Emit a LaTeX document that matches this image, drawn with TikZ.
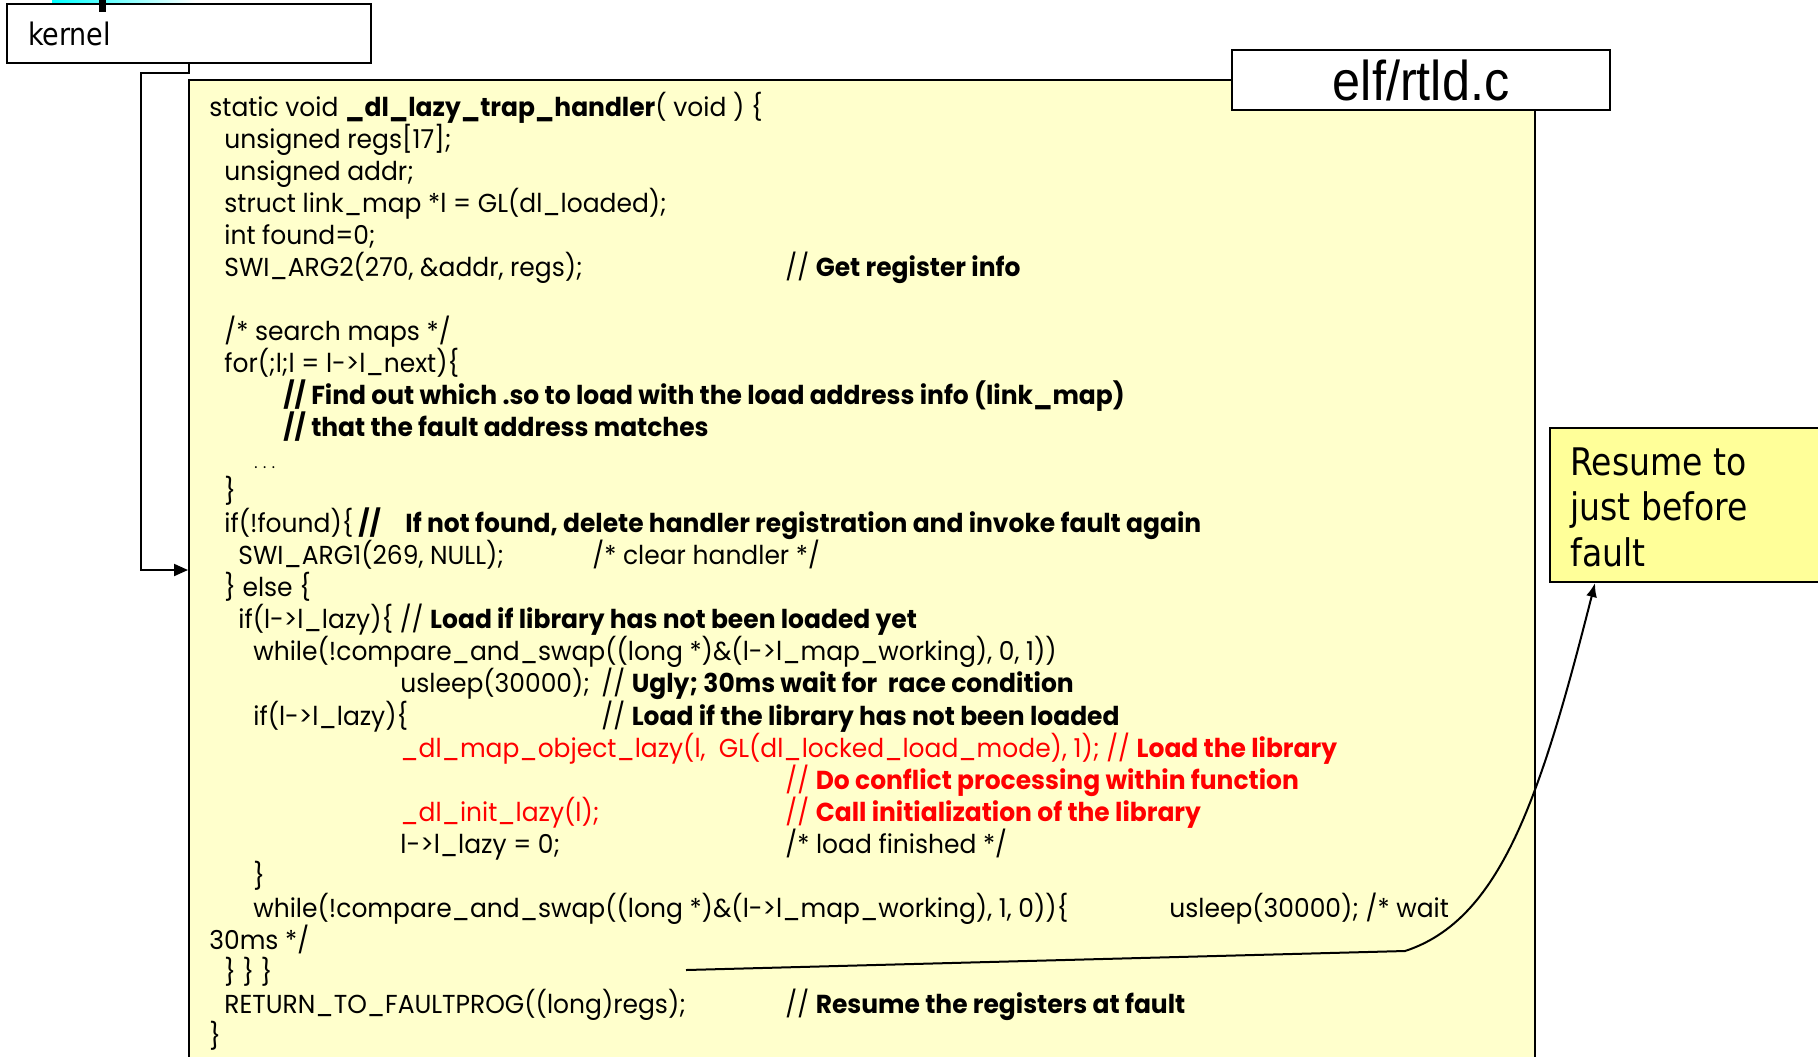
\documentclass[tikz,border=0pt]{standalone}
\usepackage{fontspec}
\usetikzlibrary{arrows.meta}
\newfontfamily\codefont[FakeStretch=0.96]{Poppins}
\newfontfamily\labelfont[FakeStretch=0.87]{DejaVu Sans}
\newfontfamily\filefont[FakeStretch=0.9]{Liberation Sans}
\definecolor{codebg}{RGB}{255,255,204}
\definecolor{notebg}{RGB}{255,255,153}
\definecolor{codered}{RGB}{255,0,0}
\tikzset{
  frame/.style={draw=black, line width=1pt},
  code/.style={anchor=base west, inner sep=0pt, font=\codefont\fontsize{13pt}{15pt}\selectfont},
  redcode/.style={code, text=codered},
  conn/.style={draw=black, line width=1pt},
}
\begin{document}
\begin{tikzpicture}[x=0.5pt, y=-0.5pt]
\useasboundingbox (0,0) rectangle (1818,1056);
\clip (0,0) rectangle (1818,1056);

% strip along the top edge
\shade[left color=cyan, right color=white] (52,0) rectangle (195,3);

% code panel
\node[frame, fill=codebg, anchor=north west, minimum width=673pt, minimum height=500pt, inner sep=0pt] (codebox) at (188,79) {};

% kernel label box
\node[frame, fill=white, anchor=north west, minimum width=182pt, minimum height=29.5pt,
      inner xsep=10.5pt, inner ysep=0pt, text width=161pt, align=left,
      font=\labelfont\fontsize{15.5pt}{18pt}\selectfont] (kernel) at (6,3) {kernel};
\fill (99,0) rectangle (106,12);

% file name box
\node[frame, fill=white, anchor=north west, minimum width=189pt, minimum height=30pt, inner sep=0pt,
      font=\filefont\fontsize{28pt}{30pt}\selectfont] (file) at (1231,49) {elf/rtld.c};

% note box and its text
\node[frame, fill=notebg, anchor=north west, minimum width=140.5pt, minimum height=77pt, inner sep=0pt] (note) at (1549,427) {};
\node[anchor=west, inner sep=0pt, align=left,
      font=\labelfont\fontsize{19pt}{22.75pt}\selectfont] (notetext) at ([xshift=10.5pt,yshift=-1.2pt]note.west) {Resume to\\just before\\fault};

% code listing
\node[code] (c0) at (209,116) {static void \textbf{\_dl\_lazy\_trap\_handler}( void ) \{};
\node[code] (c1) at (224,148) {unsigned regs[17];};
\node[code] (c2) at (224,180) {unsigned addr;};
\node[code] (c3) at (224,212) {struct link\_map *l = GL(dl\_loaded);};
\node[code] (c4) at (224,244) {int found=0;};
\node[code] (c5) at (224,276) {SWI\_ARG2(270, \&addr, regs);};
\node[code] (c5b) at (785,276) {// \textbf{Get register info}};
\node[code] (c7) at (224,340) {/* search maps */};
\node[code] (c8) at (224,372) {for(;l;l = l->l\_next)\{};
\node[code] (c9) at (283,404) {\textbf{// Find out which .so to load with the load address info (link\_map)}};
\node[code] (c10) at (283,436) {\textbf{// that the fault address matches}};
\node[code] (c11) at (254,468) {\fontsize{8pt}{8pt}\selectfont . . .};
\node[code] (c12) at (224,500) {\}};
\node[code] (c13) at (224,532) {if(!found)\{};
\node[code] (c13s) at (358,532) {\textbf{//}};
\node[code] (c13b) at (405,532) {\textbf{If not found, delete handler registration and invoke fault again}};
\node[code] (c14) at (238,564) {SWI\_ARG1(269, NULL);};
\node[code] (c14b) at (592,564) {/* clear handler */};
\node[code] (c15) at (224,596) {\} else \{};
\node[code] (c16) at (238,628) {if(l->l\_lazy)\{ // \textbf{Load if library has not been loaded yet}};
\node[code] (c17) at (253,660) {while(!compare\_and\_swap((long *)\&(l->l\_map\_working), 0, 1))};
\node[code] (c18) at (400,692) {usleep(30000);};
\node[code] (c18b) at (601,692) {// \textbf{Ugly; 30ms wait for\ \ race condition}};
\node[code] (c19) at (253,725) {if(l->l\_lazy)\{};
\node[code] (c19b) at (601,725) {// \textbf{Load if the library has not been loaded}};
\node[redcode] (c20) at (400,757) {\_dl\_map\_object\_lazy(l,\ \ GL(dl\_locked\_load\_mode), 1); // \textbf{Load the library}};
\node[redcode] (c21) at (785,789) {// \textbf{Do conflict processing within function}};
\node[redcode] (c22) at (400,821) {\_dl\_init\_lazy(l);};
\node[redcode] (c22b) at (785,821) {// \textbf{Call initialization of the library}};
\node[code] (c23) at (400,853) {l->l\_lazy = 0;};
\node[code] (c23b) at (785,853) {/* load finished */};
\node[code] (c24) at (253,885) {\}};
\node[code] (c25) at (253,917) {while(!compare\_and\_swap((long *)\&(l->l\_map\_working), 1, 0))\{};
\node[code] (c25b) at (1169,917) {usleep(30000); /* wait};
\node[code] (c26) at (209,949) {30ms */};
\node[code] (c27) at (224,981) {\} \} \}};
\node[code] (c28) at (224,1013) {RETURN\_TO\_FAULTPROG((long)regs);};
\node[code] (c28b) at (785,1013) {// \textbf{Resume the registers at fault}};
\node[code] (c29) at (209,1045) {\}};

% kernel hands control to the trap handler
\coordinate (entry) at (188,570);
\draw[conn, -{Triangle[length=7pt,width=6pt]}] (kernel.south) -- ++(0,9) -- ++(-48,0) |- (entry);

% return path back to the faulting code
\coordinate (retstart) at (686,970);
\coordinate (retbend) at (1405,951);
\draw[conn, -{Latex[length=7pt,width=5.5pt]}] (retstart) -- (retbend)
  .. controls (1500,920) and (1540,800) .. ([xshift=23pt]note.south west);
\end{tikzpicture}
\end{document}
